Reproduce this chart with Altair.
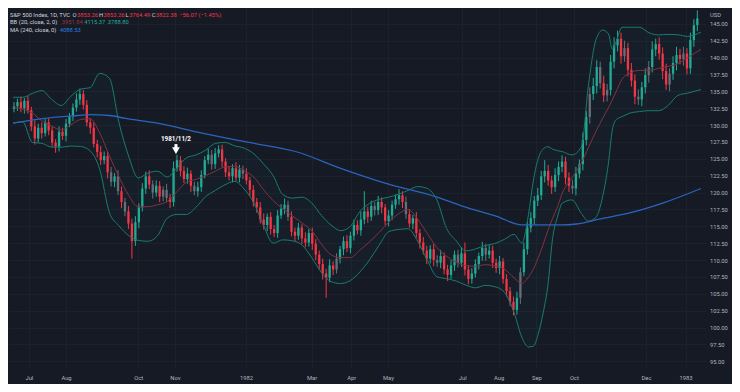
import altair as alt
import pandas as pd

# ---------------- data ----------------
# one candle per two trading days, index 0..197
close = [
    132.8, 133.4, 132.5, 133.6, 132.2, 129.8, 128.0, 129.6, 128.8, 130.4, 129.2, 127.4, 126.8, 129.0, 128.4, 130.2, 131.3, 132.6, 133.8, 134.6,
    133.0, 130.4, 129.6, 127.2, 126.0, 124.8, 125.4, 123.0, 121.6, 122.4, 120.2, 118.6, 117.2, 115.4, 112.8, 115.6, 117.8, 120.6, 122.4, 121.2,
    120.0, 121.0, 119.4, 120.4, 119.2, 118.6, 123.6, 124.8, 123.2, 122.0, 122.8, 121.0, 120.2, 120.8, 122.6, 124.8, 125.6, 124.2, 125.8, 126.4,
    124.6, 123.0, 122.4, 123.6, 122.2, 123.4, 122.8, 121.8, 120.4, 118.6, 117.8, 116.0, 115.2, 116.4, 114.6, 114.0, 116.6, 117.6, 118.2, 116.4,
    114.2, 113.6, 114.8, 113.2, 112.6, 114.0, 112.4, 110.8, 109.4, 108.0, 107.4, 109.2, 108.6, 110.2, 111.6, 112.8, 111.8, 113.6, 115.2, 114.4,
    116.0, 117.2, 116.4, 118.0, 117.4, 118.6, 117.8, 115.8, 116.6, 118.2, 119.0, 119.6, 118.6, 116.8, 115.4, 116.2, 114.0, 112.6, 111.4, 110.2,
    111.6, 110.0, 109.6, 110.6, 108.6, 107.8, 109.2, 110.8, 109.6, 111.0, 108.6, 107.2, 108.0, 109.4, 110.6, 111.8, 110.8, 111.4, 109.6, 108.8,
    109.8, 107.2, 105.4, 103.8, 102.6, 104.4, 108.2, 111.6, 114.8, 116.2, 118.8, 119.6, 122.4, 123.2, 121.8, 120.8, 122.6, 123.8, 124.6, 122.2,
    121.0, 120.6, 122.8, 124.2, 127.8, 131.2, 134.6, 135.8, 138.6, 136.2, 134.4, 135.2, 139.4, 141.8, 142.8, 140.2, 141.4, 138.2, 136.6, 134.2,
    133.8, 135.6, 137.4, 138.6, 141.2, 142.0, 140.6, 138.0, 136.0, 137.6, 139.2, 140.4, 139.8, 140.6, 138.4, 142.6, 144.8, 145.8,
]
first_open = 132.4
wick_hi = [
    0.6, 0.5, 0.8, 0.4, 0.7, 0.5, 0.9, 0.6, 0.8, 0.5, 0.7, 0.6, 0.5, 0.8, 0.6, 0.7, 0.5, 0.6, 0.9, 0.8,
    0.6, 0.7, 0.5, 0.8, 0.6, 0.9, 0.7, 0.6, 0.8, 0.5, 0.9, 0.7, 0.6, 0.8, 0.7, 0.9, 0.6, 0.8, 0.7, 0.9,
    0.6, 0.8, 0.7, 0.5, 0.9, 0.6, 1.0, 0.8, 0.6, 0.7, 0.9, 0.5, 0.6, 0.8, 0.7, 0.6, 0.9, 0.7, 0.8, 0.6,
    0.7, 0.5, 0.8, 0.6, 0.9, 0.7, 0.6, 0.8, 0.5, 0.7, 0.6, 0.8, 0.9, 0.5, 0.7, 0.6, 0.8, 0.7, 0.9, 0.6,
    0.8, 0.6, 0.7, 0.5, 0.9, 0.6, 0.8, 0.7, 0.6, 0.8, 0.7, 0.9, 0.6, 0.8, 0.5, 0.7, 0.9, 0.6, 0.8, 0.7,
    1.2, 3.0, 0.7, 0.8, 0.6, 0.9, 0.7, 0.5, 0.8, 0.6, 0.7, 0.9, 0.6, 0.8, 0.7, 0.5, 0.9, 0.6, 0.8, 0.7,
    0.6, 0.8, 0.7, 0.9, 0.5, 0.7, 0.8, 0.6, 0.7, 0.9, 1.6, 0.6, 0.8, 0.7, 0.5, 0.9, 0.6, 0.8, 0.7, 0.6,
    0.8, 0.5, 0.7, 0.6, 0.8, 0.9, 0.7, 1.0, 0.8, 0.9, 0.7, 1.1, 0.8, 1.6, 0.9, 0.7, 1.0, 0.8, 0.9, 0.7,
    0.8, 0.9, 1.0, 0.7, 1.1, 0.9, 1.0, 1.2, 1.0, 0.8, 1.1, 0.9, 1.0, 1.2, 1.2, 0.9, 1.1, 0.8, 1.0, 0.9,
    1.1, 0.8, 1.0, 0.9, 1.2, 0.8, 1.0, 0.9, 1.1, 0.8, 1.0, 1.2, 0.9, 1.0, 0.8, 1.1, 0.9, 1.2,
]
wick_lo = [
    0.5, 0.7, 0.6, 0.8, 0.5, 0.7, 0.9, 0.6, 0.8, 0.5, 0.7, 0.6, 0.9, 0.7, 0.6, 0.8, 0.5, 0.7, 0.6, 0.8,
    0.7, 0.6, 0.9, 0.5, 0.8, 0.7, 0.6, 0.9, 0.7, 0.8, 0.6, 0.9, 0.7, 0.8, 2.6, 0.7, 0.9, 0.6, 0.8, 0.7,
    0.9, 0.6, 0.8, 0.7, 0.6, 0.9, 0.7, 0.5, 0.8, 0.6, 0.7, 0.9, 0.6, 0.8, 0.7, 0.5, 0.6, 0.8, 0.7, 0.6,
    0.8, 0.7, 0.6, 0.9, 0.5, 0.7, 0.8, 0.6, 0.9, 0.7, 0.8, 0.6, 0.7, 0.9, 0.8, 0.6, 0.7, 0.5, 0.8, 0.6,
    0.7, 0.9, 0.6, 0.8, 0.7, 0.6, 0.9, 0.8, 0.7, 0.9, 3.0, 0.7, 0.8, 0.6, 0.7, 0.9, 0.6, 0.8, 0.7, 0.6,
    0.8, 0.7, 0.9, 0.6, 0.8, 0.7, 0.9, 0.6, 0.8, 0.7, 0.6, 0.8, 0.9, 0.7, 0.6, 0.8, 0.7, 0.9, 0.6, 0.8,
    0.7, 0.9, 0.6, 0.8, 0.7, 0.9, 0.6, 0.8, 0.7, 0.6, 0.9, 0.8, 0.7, 0.6, 0.8, 0.7, 0.9, 0.6, 0.8, 0.7,
    0.9, 0.7, 0.8, 0.6, 0.8, 0.7, 0.9, 0.6, 0.8, 0.7, 0.9, 0.8, 0.7, 0.9, 0.8, 1.0, 0.7, 0.9, 0.8, 1.0,
    0.9, 0.8, 1.0, 0.7, 0.9, 0.8, 1.0, 0.9, 1.1, 0.8, 1.0, 0.9, 0.8, 1.0, 0.9, 1.1, 0.8, 1.0, 0.9, 1.1,
    0.8, 1.0, 0.9, 1.1, 0.8, 1.0, 0.9, 1.2, 0.8, 1.0, 0.9, 1.1, 0.8, 1.0, 0.9, 0.8, 1.0, 0.9,
]
gray_bars = [28, 30, 32, 40, 43, 44, 52, 57, 66, 79, 93, 104, 113, 122, 128, 136,
             146, 161, 166, 169, 171, 176, 180, 183, 189, 193]

# Bollinger Bands (20, close, 2) read at these candle positions
band_pos = [-0.28, 2.5, 5.28, 8.06, 10.83, 13.61, 16.39, 19.17, 21.94, 24.72,
            27.5, 30.28, 33.06, 35.83, 38.61, 41.39, 44.17, 46.94, 49.72, 52.5,
            55.28, 58.06, 60.83, 63.61, 66.39, 69.17, 71.94, 74.72, 77.5, 80.28,
            83.06, 85.83, 88.61, 91.39, 94.17, 96.94, 99.72, 102.5, 105.28, 108.06,
            110.83, 113.61, 116.39, 119.17, 121.94, 124.72, 127.5, 130.28, 133.06, 135.83,
            138.61, 141.39, 144.17,
            146.39, 148.33, 149.72, 151.11, 152.5, 153.89, 155.28, 156.67, 158.06,
            160.83, 163.61, 165.56, 167.78, 169.72, 171.39, 172.5, 173.61, 175.28,
            177.5, 180.28, 183.06, 185.83, 188.61, 191.39, 194.17, 198.06]
bb_upper = [134.12, 134.12, 134.69, 135.11, 133.83, 132.91, 134.26, 135.33, 135.54, 137.67,
            136.96, 130.36, 125.40, 122.17, 122.88, 123.17, 122.31, 123.62, 125.16, 125.58,
            126.29, 127.29, 127.43, 126.93, 126.58, 125.73, 124.25, 122.51, 119.69, 119.18,
            119.32, 118.47, 116.62, 115.20, 114.35, 114.99, 117.19, 118.40, 119.00, 119.32,
            119.75, 120.32, 120.89, 120.60, 118.90, 114.69, 112.84, 111.36, 111.64, 112.14,
            112.45, 113.07, 113.81,
            112.52, 116.76, 121.74, 125.01, 126.44, 126.79, 126.44, 126.21, 126.07,
            125.58, 126.82, 135.68, 142.65, 144.08, 143.51, 141.23, 142.37, 144.50,
            144.50, 144.50, 143.69, 143.36, 143.44, 143.38, 143.14, 143.79]
bb_basis = [132.70, 132.35, 131.79, 130.62, 129.86, 129.28, 130.04, 130.82, 130.95, 128.83,
            125.46, 122.31, 119.59, 117.90, 117.90, 118.19, 118.66, 120.11, 121.53, 121.96,
            122.52, 123.17, 123.81, 123.88, 123.24, 122.28, 120.42, 118.80, 117.59, 116.55,
            115.48, 114.35, 112.38, 110.79, 110.36, 110.36, 111.46, 112.71, 114.09, 115.63,
            116.84, 117.48, 116.05, 113.92, 111.83, 110.56, 109.68, 109.18, 109.07, 109.31,
            109.15, 108.67, 107.36,
            106.52, 107.52, 108.63, 110.33, 112.21, 114.35, 116.19, 117.86, 119.89,
            122.17, 124.45, 126.62, 129.07, 131.03, 132.60, 133.73, 134.96, 136.79,
            137.69, 138.10, 138.10, 138.39, 138.71, 139.10, 139.98, 141.23]
bb_lower = [130.28, 130.49, 127.43, 127.29, 126.74, 126.72, 126.89, 126.83, 126.18, 123.44,
            117.05, 115.06, 113.63, 112.91, 112.78, 113.59, 116.19, 116.76, 116.76, 117.83,
            119.40, 120.32, 121.15, 121.66, 120.50, 118.47, 115.13, 112.50, 112.99, 112.85,
            112.21, 110.36, 108.17, 106.81, 106.52, 106.95, 108.23, 110.02, 112.21, 114.20,
            114.53, 114.63, 112.78, 109.94, 107.52, 107.23, 106.88, 106.28, 105.88, 106.24,
            106.05, 105.23, 102.21,
            98.56, 97.12, 97.22, 98.98, 102.03, 106.10, 113.21, 116.34, 118.41,
            118.91, 116.89, 115.77, 116.34, 119.42, 124.40, 129.28, 130.78, 131.24,
            131.76, 132.00, 132.13, 132.13, 132.92, 134.40, 134.73, 135.26]

# MA (240, close)
ma_pos = [-0.28, 8.89, 18.33, 21.94, 27.5, 32.22, 41.39, 53.89, 67.78, 81.67, 94.17,
          107.5, 121.94, 129.72, 139.17, 146.39, 157.5, 162.22, 168.61, 178.06, 187.22, 198.06]
ma_val = [130.28, 130.99, 131.42, 131.56, 131.42, 130.99, 130.28, 128.85, 127.43, 126.01, 123.59,
          121.32, 119.32, 117.90, 116.48, 115.20, 115.20, 115.34, 116.05, 117.05, 118.47, 120.60]

month_pos = [4.3, 15.0, 35.8, 46.4, 66.9, 85.8, 97.2, 107.8, 129.2, 139.7, 150.6, 161.4, 182.2, 193.6]
month_lab = ["Jul", "Aug", "Oct", "Nov", "1982", "Mar", "Apr", "May", "Jul", "Aug", "Sep", "Oct", "Dec", "1983"]
price_ticks = [95.0, 97.5, 100.0, 102.5, 105.0, 107.5, 110.0, 112.5, 115.0, 117.5, 120.0,
               122.5, 125.0, 127.5, 130.0, 132.5, 135.0, 137.5, 140.0, 142.5, 145.0]

anno_idx = 46.7
anno_price = 125.7
anno_text = "1981/11/2"

# ---------------- style ----------------
BG = "#161a25"
GRID = "#1d212c"
TXT = "#b2b5be"
UP = "#22ab94"
DOWN = "#f23645"
GRAYC = "#6a6d78"
BAND = "#177d6e"
BASIS = "#86303f"
BLUE = "#2a64bd"
FONT = "Roboto"
FS = 5.8

W, H = 698, 360
XDOM = [-0.28, 198.06]
YDOM = [94.0, 147.35]

# ---------------- build tables ----------------
n = len(close)
opens = [first_open] + close[:-1]
gset = set(gray_bars)
rows = []
for i in range(n):
    o, c = opens[i], close[i]
    hi = max(o, c) + wick_hi[i]
    lo = min(o, c) - wick_lo[i]
    kind = "gray" if i in gset else ("up" if c >= o else "down")
    rows.append(dict(i=i, open=o, close=c, high=hi, low=lo, kind=kind))
candles = pd.DataFrame(rows)
bands = pd.DataFrame(dict(pos=band_pos, upper=bb_upper, basis=bb_basis, lower=bb_lower))
ma = pd.DataFrame(dict(pos=ma_pos, ma=ma_val))
anno = pd.DataFrame(dict(pos=[anno_idx], price=[anno_price], label=[anno_text]))

label_expr = " : ".join(f"datum.value == {p} ? '{l}'" for p, l in zip(month_pos, month_lab)) + " : ''"

xaxis = alt.Axis(values=month_pos, labelExpr=label_expr, grid=True, gridColor=GRID, gridWidth=1,
                 ticks=False, domain=False, labelColor=TXT, labelFontSize=FS, labelFont=FONT,
                 labelPadding=6, labelFlush=False, labelOverlap=False, title=None)
yaxis = alt.Axis(orient="right", values=price_ticks, format=".2f", grid=True, gridColor=GRID,
                 gridWidth=1, ticks=False, domain=False, labelColor=TXT, labelFontSize=FS,
                 labelFont=FONT, labelPadding=3.5, labelOverlap=False, labelAlign="left",
                 title="USD", titleAngle=0, titleFontSize=FS, titleFont=FONT, titleColor=TXT,
                 titleFontWeight="normal", titleAlign="left", titleBaseline="middle",
                 titleX=3.5, titleY=6)
xs = alt.Scale(domain=XDOM, nice=False, zero=False)
ys = alt.Scale(domain=YDOM, nice=False, zero=False)


def X(f):
    return alt.X(f, type="quantitative", scale=xs, axis=xaxis)


def Y(f):
    return alt.Y(f, type="quantitative", scale=ys, axis=yaxis)


color = alt.Color("kind:N", scale=alt.Scale(domain=["up", "down", "gray"], range=[UP, DOWN, GRAYC]),
                  legend=None)

band_fill = alt.Chart(bands).mark_area(color=UP, opacity=0.045, interpolate="monotone", clip=True).encode(
    x=X("pos"), y=Y("upper"), y2=alt.Y2("lower"))
wicks = alt.Chart(candles).mark_rule(strokeWidth=1, clip=True).encode(
    x=X("i"), y=Y("low"), y2=alt.Y2("high"), color=color)
bodies = alt.Chart(candles).mark_bar(width=2.3, clip=True).encode(
    x=X("i"), y=Y("open"), y2=alt.Y2("close"), color=color)
basis_line = alt.Chart(bands).mark_line(color=BASIS, strokeWidth=1, interpolate="monotone", clip=True).encode(
    x=X("pos"), y=Y("basis"))
upper_line = alt.Chart(bands).mark_line(color=BAND, strokeWidth=1, interpolate="monotone", clip=True).encode(
    x=X("pos"), y=Y("upper"))
lower_line = alt.Chart(bands).mark_line(color=BAND, strokeWidth=1, interpolate="monotone", clip=True).encode(
    x=X("pos"), y=Y("lower"))
ma_line = alt.Chart(ma).mark_line(color=BLUE, strokeWidth=1.3, interpolate="monotone", clip=True).encode(
    x=X("pos"), y=Y("ma"))

stem = alt.Chart(anno).mark_rule(color="white", strokeWidth=3, yOffset=-10, y2Offset=-5.5).encode(
    x=X("pos"), y=Y("price"), y2=alt.Y2("price"))
head = alt.Chart(anno).mark_point(shape="triangle-down", filled=True, size=60, color="white",
                                  opacity=1, yOffset=-3.4).encode(x=X("pos"), y=Y("price"))
anno_lbl = alt.Chart(anno).mark_text(color="white", fontSize=6.3, fontWeight="bold", font=FONT,
                                     dy=-15, baseline="middle").encode(
    x=X("pos"), y=Y("price"), text="label:N")

LBL = "#d1d4dc"
header = [
    ("S&P 500 Index, 1D, TVC", 2, 6.6, LBL),
    ("O", 64.5, 6.6, LBL), ("3853.26", 69, 6.6, DOWN),
    ("H", 91, 6.6, LBL), ("3853.26", 95.4, 6.6, DOWN),
    ("L", 117.4, 6.6, LBL), ("3764.49", 121.3, 6.6, DOWN),
    ("C", 143.8, 6.6, LBL), ("3822.38", 147.7, 6.6, DOWN),
    ("\u221256.07 (\u22121.45%)", 171.2, 6.6, DOWN),
    ("BB (20, close, 2, 0)", 2, 14.4, LBL), ("3951.84", 53.8, 14.4, "#9a3443"),
    ("4115.37", 76.3, 14.4, UP), ("3788.80", 99.8, 14.4, UP),
    ("MA (240, close, 0)", 2, 22.2, LBL), ("4088.53", 51.8, 22.2, "#2f7fe0"),
]
header_layers = []
for t, hx, hy, col in header:
    header_layers.append(
        alt.Chart(pd.DataFrame({"t": [t]})).mark_text(
            align="left", baseline="middle", fontSize=FS, font=FONT, color=col
        ).encode(x=alt.value(hx), y=alt.value(hy), text="t:N")
    )

chart = alt.layer(
    band_fill, wicks, bodies, basis_line, upper_line, lower_line, ma_line,
    stem, head, anno_lbl, *header_layers
).properties(
    width=W, height=H,
    padding={"left": 0, "top": 0, "right": 26, "bottom": 16},
    autosize=alt.AutoSizeParams(type="none"),
    background=BG,
).configure_view(strokeWidth=0)

chart.save("out.html", embed_options={"renderer": "svg", "actions": False})
